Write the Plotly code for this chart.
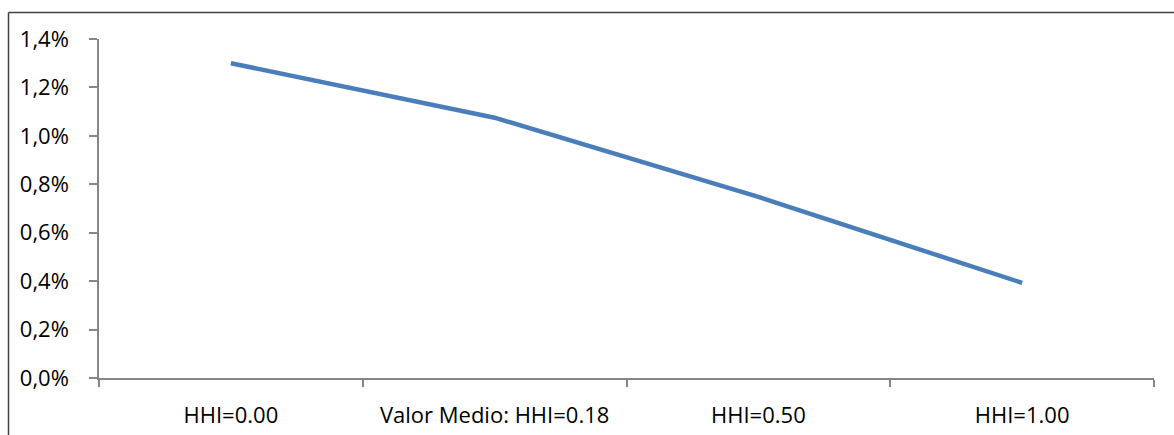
import plotly.graph_objects as go

categories = ["HHI=0.00", "Valor Medio: HHI=0.18", "HHI=0.50", "HHI=1.00"]
values = [0.0130, 0.01075, 0.00748, 0.00393]
y_ticks = [0.0, 0.002, 0.004, 0.006, 0.008, 0.010, 0.012, 0.014]

W, H = 1174, 435
L, R, T, B = 99, 1154, 39, 378

def px_x(p):
    return (p - L) / (R - L)

def px_y(p):
    return (B - p) / (B - T)

fig = go.Figure()
fig.add_trace(go.Scatter(
    x=categories, y=values, mode="lines",
    line=dict(color="#4A7EBB", width=4.5),
    hoverinfo="skip", showlegend=False,
))

font = dict(family="Open Sans, Noto Sans, sans-serif", size=22, color="#000000")
border = dict(color="#404040", width=1.5)

fig.update_layout(
    width=W, height=H,
    margin=dict(l=L, r=W - R, t=T, b=H - B, pad=0),
    paper_bgcolor="white", plot_bgcolor="white",
    separators=",.",
    font=font,
    xaxis=dict(
        type="category", range=[-0.5, 3.5], tickson="boundaries",
        ticks="outside", ticklen=7, tickcolor="#868686", tickwidth=1.5,
        showline=True, linecolor="#868686", linewidth=1.5,
        showgrid=False, zeroline=False, tickfont=font,
        ticklabelstandoff=17, automargin=False,
    ),
    yaxis=dict(
        range=[0, 0.014], tickvals=y_ticks, tickformat=".1%",
        ticks="outside", ticklen=8, tickcolor="#868686", tickwidth=1.5,
        showline=True, linecolor="#868686", linewidth=1.5,
        showgrid=False, zeroline=False, tickfont=font,
        ticklabelstandoff=16, automargin=False,
    ),
    shapes=[
        dict(type="line", xref="paper", yref="paper",
             x0=px_x(8.5), x1=px_x(8.5), y0=px_y(460), y1=px_y(12.5),
             line=border, layer="above"),
        dict(type="line", xref="paper", yref="paper",
             x0=px_x(8.5), x1=px_x(1200), y0=px_y(12.5), y1=px_y(12.5),
             line=border, layer="above"),
    ],
)

fig.write_html(
    "out.html",
    config={"displayModeBar": False},
    post_script="document.body.style.margin='0';document.body.style.overflow='hidden';",
)
